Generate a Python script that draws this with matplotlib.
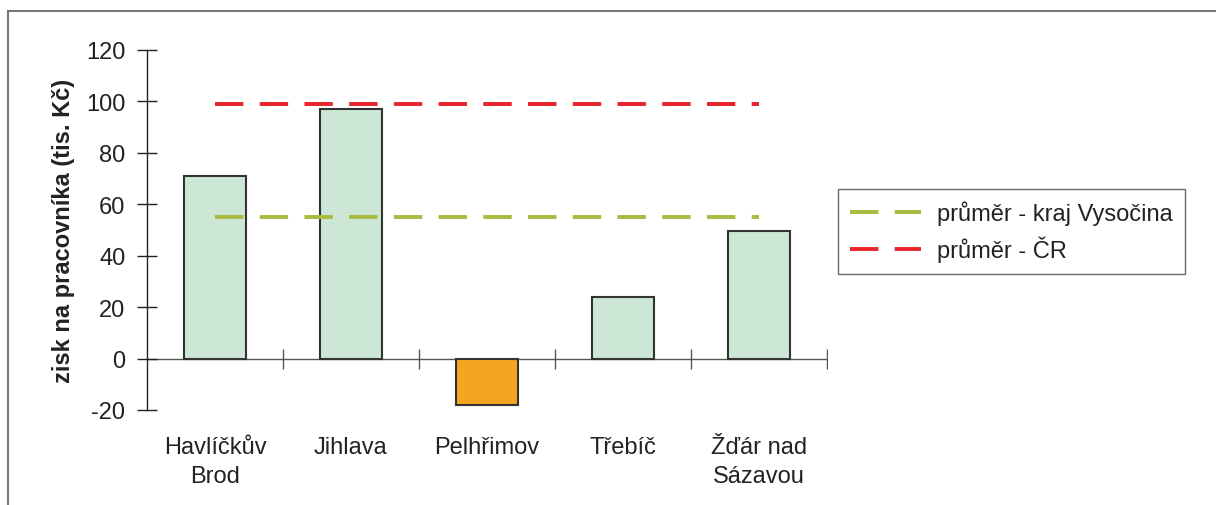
import matplotlib
matplotlib.use("Agg")
import matplotlib.pyplot as plt
from matplotlib.lines import Line2D

categories = ["Havlíčkův\nBrod", "Jihlava", "Pelhřimov", "Třebíč", "Žďár nad\nSázavou"]
values = [71, 97, -18, 24, 49.5]
avg_kraj = 55
avg_cr = 99
ylabel = "zisk na pracovníka (tis. Kč)"
legend_labels = ["průměr - kraj Vysočina", "průměr - ČR"]
yticks = [-20, 0, 20, 40, 60, 80, 100, 120]

plt.rcParams['font.family'] = ['Liberation Sans', 'DejaVu Sans']

FS = 17

fig = plt.figure(figsize=(12.16, 5.06), dpi=100)
ax = fig.add_axes([147/1216, 1-411/506, (827-147)/1216, (411-50.7)/506])

x = list(range(len(categories)))
colors = ['#f6a521' if v < 0 else '#cce7d5' for v in values]
ax.bar(x, values, width=0.45, color=colors, edgecolor='#333333', linewidth=1.5, zorder=2)

ln1, = ax.plot([x[0], x[-1]], [avg_kraj, avg_kraj], color='#a9ba3f', lw=2.8, zorder=3)
ln1.set_dashes((7.3, 4.2))
ln2, = ax.plot([x[0], x[-1]], [avg_cr, avg_cr], color='#e8232a', lw=2.8, zorder=3)
ln2.set_dashes((7.3, 4.2))

ax.set_xlim(-0.5, len(categories) - 0.5)
ax.set_ylim(-20, 120)

for s in ['top', 'right', 'bottom']:
    ax.spines[s].set_visible(False)
ax.spines['left'].set_color('#222222')
ax.spines['left'].set_linewidth(1.0)

ax.axhline(0, color='#555555', lw=1.0, zorder=1)
ax.plot([i + 0.5 for i in x], [0] * len(x), linestyle='none', marker='|',
        markersize=15, markeredgewidth=1.0, color='#555555', zorder=1)

ax.set_yticks(yticks)
ax.set_yticklabels([str(t) for t in yticks])
ax.tick_params(axis='y', direction='inout', length=15, width=1.0, color='#222222',
               labelsize=FS, labelcolor='#222222', pad=8)
ax.set_xticks(x)
ax.set_xticklabels(categories, fontsize=FS, color='#222222', linespacing=1.4)
ax.tick_params(axis='x', length=0, pad=19)

ax.set_ylabel(ylabel, fontsize=FS, fontweight='bold', color='#222222', labelpad=8)

handles = [Line2D([0], [0], color='#a9ba3f', lw=2.8, dashes=(7.3, 4.2)),
           Line2D([0], [0], color='#e8232a', lw=2.8, dashes=(7.3, 4.2))]
leg = fig.legend(handles, legend_labels, loc='upper left',
                 bbox_to_anchor=(838/1216, 1-190/506), fontsize=FS,
                 frameon=True, fancybox=False, handlelength=3.0, borderpad=0.5,
                 labelspacing=0.45, handletextpad=0.7, borderaxespad=0)
leg.get_frame().set_edgecolor('#444444')
leg.get_frame().set_linewidth(1.0)
for t in leg.get_texts():
    t.set_color('#222222')

fig.add_artist(Line2D([8/1216, 1], [1-12/506, 1-12/506], color='#777777', lw=1.5))
fig.add_artist(Line2D([8/1216, 8/1216], [0, 1-12/506], color='#777777', lw=1.5))

fig.savefig('out.png', dpi=100)
